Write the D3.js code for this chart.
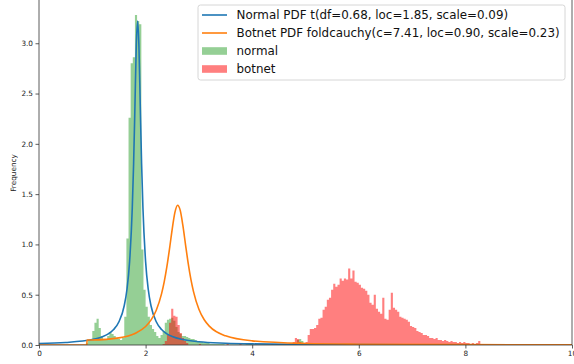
<!DOCTYPE html>
<html>
<head>
<meta charset="utf-8">
<script src="https://cdn.jsdelivr.net/npm/d3@7"></script>
<style>
  body { margin: 0; background: #fff; }
  svg { display: block; font-family: "DejaVu Sans", sans-serif; }
</style>
</head>
<body>
<svg id="chart" width="574" height="364"></svg>
<script>
// ticks
const xTicks = [0, 2, 4, 6, 8, 10];
const yTicks = [0, 0.5, 1, 1.5, 2, 2.5, 3];

// histograms (bin width 0.04)
const binWidth = 0.04;
const normalStart = 0.88;
const normalHeights = [
  0.02, 0.05, 0.06, 0.14, 0.22, 0.26, 0.17, 0.09, 0.05, 0.05,
  0.09, 0.13, 0.11, 0.09, 0.07, 0.06, 0.05, 0.07, 0.28, 1.06,
  2.26, 2.80, 2.86, 3.28, 3.22, 3.19, 0.95, 0.55, 0.38, 0.28,
  0.20, 0.16, 0.13, 0.09, 0.07, 0.10, 0.14, 0.22, 0.25, 0.26,
  0.27, 0.24, 0.18, 0.13, 0.11, 0.09, 0.09, 0.08, 0.07, 0.06,
  0.06, 0.05, 0.04, 0.03, 0.03, 0.02, 0.02, 0.02, 0.01, 0.01,
  0.01, 0.01, 0.01, 0.01, 0.01, 0.005, 0.005, 0.005, 0.005, 0.005,
  0.005, 0.005, 0.005, 0.005, 0.005, 0.02, 0.02, 0.01, 0.005, 0.005,
  0.005, 0.005, 0.005, 0.005, 0.005, 0.005, 0.005, 0.005, 0.005, 0.005,
  0.005, 0.005, 0.005, 0.005, 0.005, 0.005, 0.005, 0.005, 0.02, 0.05,
  0.06, 0.04, 0.02
];
const botnetStart = 2.32;
const botnetHeights = [
  0.01, 0.04, 0.10, 0.22, 0.36, 0.29, 0.28, 0.20, 0.12, 0.07,
  0.04, 0.02,
  0, 0, 0, 0, 0, 0.01, 0, 0, 0, 0,
  0, 0, 0, 0, 0, 0, 0, 0, 0.01, 0,
  0, 0, 0, 0, 0.01, 0, 0, 0, 0, 0,
  0, 0, 0, 0, 0, 0, 0, 0, 0, 0.01,
  0, 0, 0, 0, 0, 0, 0, 0, 0,
  0.03, 0.07, 0.06, 0.03, 0.02, 0.02, 0.03, 0.10,
  0.16, 0.16, 0.17, 0.20, 0.26, 0.27, 0.35, 0.38, 0.45, 0.47,
  0.55, 0.61, 0.58, 0.60, 0.66, 0.64, 0.66, 0.65, 0.76, 0.66,
  0.74, 0.63, 0.62, 0.60, 0.57, 0.56, 0.54, 0.50, 0.42, 0.40,
  0.50, 0.36, 0.33, 0.31, 0.47, 0.26, 0.25, 0.35, 0.52, 0.37,
  0.35, 0.33, 0.28, 0.27, 0.26, 0.25, 0.23, 0.19, 0.18, 0.17,
  0.14, 0.13, 0.12, 0.10, 0.10, 0.09, 0.07, 0.07, 0.06, 0.07,
  0.05, 0.05, 0.04, 0.05, 0.04, 0.03, 0.04, 0.03, 0.03, 0.02,
  0.03, 0.02, 0.03, 0.02, 0.02, 0.01, 0.02, 0.01, 0.02, 0.04,
  0.01, 0.01, 0.01, 0.005, 0.005, 0.005, 0.005, 0.005
];

// fitted pdf curves
const normalPdfX = [0, 0.5, 1.0, 1.1, 1.2, 1.3, 1.4, 1.5, 1.6, 1.65, 1.7, 1.75, 1.775, 1.8, 1.825, 1.85,
  1.875, 1.9, 1.925, 1.95, 2.0, 2.05, 2.1, 2.2, 2.3, 2.4, 2.5, 2.7, 3.0, 3.5, 4, 5, 6, 8, 10];
const normalPdfY = [0.015, 0.025, 0.054, 0.066, 0.084, 0.111, 0.154, 0.231, 0.393, 0.552, 0.829, 1.363, 1.80, 2.374, 2.97, 3.22,
  2.97, 2.374, 1.80, 1.363, 0.829, 0.552, 0.393, 0.231, 0.154, 0.111, 0.084, 0.054, 0.032, 0.018, 0.011, 0.006, 0.004, 0.002, 0.001];
const botnetPdfX = [0, 0.899, 0.9, 1.0, 1.5, 1.8, 2.0, 2.1, 2.2, 2.3, 2.35, 2.4, 2.45, 2.5, 2.55, 2.6, 2.65,
  2.7, 2.75, 2.8, 2.85, 2.9, 3.0, 3.1, 3.2, 3.5, 4, 5, 6, 8, 10];
const botnetPdfY = [0, 0, 0.0495, 0.050, 0.071, 0.115, 0.184, 0.247, 0.346, 0.511, 0.630, 0.781, 0.961, 1.155, 1.318, 1.390, 1.338,
  1.186, 0.994, 0.809, 0.652, 0.528, 0.355, 0.251, 0.185, 0.091, 0.041, 0.015, 0.008, 0.0035, 0.002];

const legendLabels = [
  'Normal PDF t(df=0.68, loc=1.85, scale=0.09)',
  'Botnet PDF foldcauchy(c=7.41, loc=0.90, scale=0.23)',
  'normal',
  'botnet'
];

const svg = d3.select('#chart');
const left = 39, right = 572, bottom = 345;

const x = d3.scaleLinear().domain([0, 10]).range([left, right]);
const y = d3.scaleLinear().domain([0, 3.43]).range([bottom, 0]);

svg.append('clipPath').attr('id', 'plotclip')
  .append('rect').attr('x', left).attr('y', -5).attr('width', right - left).attr('height', bottom + 5);

const plot = svg.append('g').attr('clip-path', 'url(#plotclip)');

function histPoints(start, heights) {
  const pts = heights.map((h, i) => ({ x: start + i * binWidth, h: h }));
  pts.push({ x: start + heights.length * binWidth, h: 0 });
  return pts;
}

const histArea = d3.area()
  .x(d => x(d.x))
  .y0(y(0))
  .y1(d => y(d.h))
  .curve(d3.curveStepAfter);

plot.append('path')
  .datum(histPoints(normalStart, normalHeights))
  .attr('d', histArea)
  .attr('fill', '#2ca02c')
  .attr('fill-opacity', 0.5);

plot.append('path')
  .datum(histPoints(botnetStart, botnetHeights))
  .attr('d', histArea)
  .attr('fill', '#ff0000')
  .attr('fill-opacity', 0.5);

const pdfLine = d3.line()
  .x(d => x(d[0]))
  .y(d => y(d[1]))
  .curve(d3.curveMonotoneX);

plot.append('path')
  .datum(d3.zip(normalPdfX, normalPdfY))
  .attr('d', pdfLine)
  .attr('fill', 'none')
  .attr('stroke', '#1f77b4')
  .attr('stroke-width', 1.6);

plot.append('path')
  .datum(d3.zip(botnetPdfX, botnetPdfY))
  .attr('d', pdfLine)
  .attr('fill', 'none')
  .attr('stroke', '#ff7f0e')
  .attr('stroke-width', 1.6);

// axes
const xAxis = svg.append('g')
  .attr('transform', 'translate(0,' + bottom + ')')
  .call(d3.axisBottom(x).tickValues(xTicks).tickSize(3.5).tickPadding(2).tickFormat(d3.format('d')));
const yAxis = svg.append('g')
  .attr('transform', 'translate(' + left + ',0)')
  .call(d3.axisLeft(y).tickValues(yTicks).tickSize(3.5).tickPadding(2.5).tickFormat(d3.format('.1f')));

[xAxis, yAxis].forEach(a => {
  a.select('.domain').remove();
  a.selectAll('line').attr('stroke', '#333').attr('stroke-width', 0.8);
  a.selectAll('text').attr('font-size', 7.3).attr('fill', '#222').attr('font-family', 'DejaVu Sans');
});

// spines
svg.append('line').attr('x1', left).attr('x2', left).attr('y1', 0).attr('y2', bottom)
  .attr('stroke', '#333').attr('stroke-width', 0.8);
svg.append('line').attr('x1', right).attr('x2', right).attr('y1', 0).attr('y2', bottom)
  .attr('stroke', '#333').attr('stroke-width', 0.8);
svg.append('line').attr('x1', left).attr('x2', right).attr('y1', bottom).attr('y2', bottom)
  .attr('stroke', '#333').attr('stroke-width', 0.8);

svg.append('text')
  .attr('transform', 'translate(15.5,173) rotate(-90)')
  .attr('text-anchor', 'middle')
  .attr('font-size', 7.3)
  .attr('fill', '#222')
  .text('Frequency');

// legend
const legend = svg.append('g');
legend.append('rect')
  .attr('x', 198).attr('y', 5).attr('width', 367).attr('height', 75)
  .attr('rx', 2.5)
  .attr('fill', '#fff').attr('fill-opacity', 0.8)
  .attr('stroke', '#ccc').attr('stroke-width', 0.8);

const handles = [
  { type: 'line', color: '#1f77b4' },
  { type: 'line', color: '#ff7f0e' },
  { type: 'patch', color: '#2ca02c' },
  { type: 'patch', color: '#ff0000' }
];

legendLabels.forEach((label, i) => {
  const cy = 15 + i * 18;
  const h = handles[i];
  if (h.type === 'line') {
    legend.append('line')
      .attr('x1', 202).attr('x2', 227).attr('y1', cy).attr('y2', cy)
      .attr('stroke', h.color).attr('stroke-width', 1.6);
  } else {
    legend.append('rect')
      .attr('x', 202).attr('y', cy - 3.8).attr('width', 25).attr('height', 7.6)
      .attr('fill', h.color).attr('fill-opacity', 0.5);
  }
  legend.append('text')
    .attr('x', 236.5).attr('y', cy)
    .attr('dy', '0.36em')
    .attr('font-size', 11.9)
    .attr('fill', '#111')
    .text(label);
});
</script>
</body>
</html>
